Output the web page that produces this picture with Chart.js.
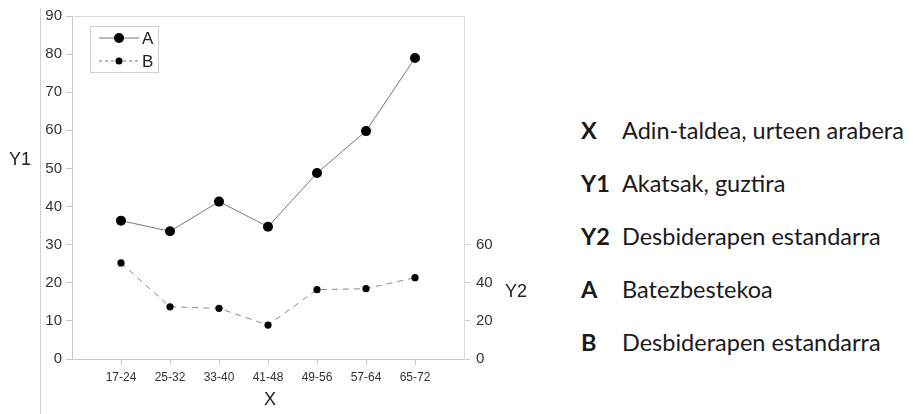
<!DOCTYPE html>
<html>
<head>
<meta charset="utf-8">
<script src="https://cdn.jsdelivr.net/npm/chart.js@4.4.1/dist/chart.umd.min.js"></script>
<style>
  html, body { margin: 0; padding: 0; background: #fff; }
  #wrap { position: relative; width: 921px; height: 414px; }
  #chartBox { position: absolute; left: 0; top: 0; width: 560px; height: 414px; }
  #key { position: absolute; left: 581px; top: 113px; font-family: Lato, "Open Sans", sans-serif;
         font-size: 23.5px; color: #1a1a1a; }
  #key div { height: 53px; line-height: 34px; white-space: nowrap; }
  #key b { display: inline-block; width: 41px; font-weight: 700; }
</style>
</head>
<body>
<div id="wrap">
  <div id="chartBox"><canvas id="c" width="560" height="414"></canvas></div>
  <div id="key"></div>
</div>
<script>
// data
const categories = ['17-24', '25-32', '33-40', '41-48', '49-56', '57-64', '65-72'];
const seriesA = [36.3, 33.5, 41.3, 34.7, 48.8, 59.8, 79.0];   // Y1
const seriesB = [50.4, 27.4, 26.6, 17.8, 36.4, 36.9, 42.7];   // Y2
const y1Ticks = [0, 10, 20, 30, 40, 50, 60, 70, 80, 90];
const y2Ticks = [0, 20, 40, 60];
const keyRows = [
  ['X', 'Adin-taldea, urteen arabera'],
  ['Y1', 'Akatsak, guztira'],
  ['Y2', 'Desbiderapen estandarra'],
  ['A', 'Batezbestekoa'],
  ['B', 'Desbiderapen estandarra']
];

const key = document.getElementById('key');
keyRows.forEach(r => {
  let d = document.createElement('div');
  d.innerHTML = '<b>' + r[0] + '</b>' + r[1];
  key.appendChild(d);
});

const axisCol = '#c9c9c9';
const tickFont = { family: '"Liberation Sans", Arial, sans-serif', size: 15 };

// extra drawing: top frame, outer rule, axis titles, legend box
const decor = {
  id: 'decor',
  afterDraw(chart) {
    const ctx = chart.ctx, a = chart.chartArea;
    ctx.save();
    ctx.strokeStyle = '#dcdcdc';
    ctx.lineWidth = 1;
    ctx.beginPath();
    ctx.moveTo(a.left, a.top + 0.5); ctx.lineTo(a.right, a.top + 0.5);
    ctx.stroke();
    // outer left rule
    ctx.strokeStyle = '#d0d0d0';
    ctx.beginPath();
    ctx.moveTo(a.left - 31.5, 8); ctx.lineTo(a.left - 31.5, chart.height);
    ctx.stroke();

    // axis titles
    ctx.fillStyle = '#222';
    ctx.font = '18px "Liberation Sans", Arial, sans-serif';
    ctx.textAlign = 'center';
    ctx.textBaseline = 'middle';
    ctx.fillText('Y1', a.left - 52, 160);
    ctx.fillText('Y2', a.right + 52, 292);
    ctx.fillText('X', (a.left + a.right) / 2 + 2, 400);

    // legend
    const lx = a.left + 18, ly = a.top + 10;
    ctx.strokeStyle = '#d0d0d0';
    ctx.strokeRect(lx + 0.5, ly + 0.5, 68, 46);
    const rows = [
      { t: 'A', dash: [], r: 5 },
      { t: 'B', dash: [3, 3], r: 3.5 }
    ];
    rows.forEach((e, i) => {
      const y = ly + 12 + i * 23;
      ctx.strokeStyle = '#777';
      ctx.setLineDash(e.dash);
      ctx.beginPath();
      ctx.moveTo(lx + 9, y); ctx.lineTo(lx + 49, y);
      ctx.stroke();
      ctx.setLineDash([]);
      ctx.fillStyle = '#000';
      ctx.beginPath();
      ctx.arc(lx + 29, y, e.r, 0, Math.PI * 2);
      ctx.fill();
      ctx.fillStyle = '#222';
      ctx.textAlign = 'left';
      ctx.font = '17px "Liberation Sans", Arial, sans-serif';
      ctx.fillText(e.t, lx + 52, y + 1);
    });
    ctx.restore();
  }
};

new Chart(document.getElementById('c'), {
  type: 'line',
  data: {
    datasets: [
      {
        label: 'A',
        data: seriesA.map((v, i) => ({ x: i + 1, y: v })),
        yAxisID: 'y',
        borderColor: '#777',
        borderWidth: 1,
        pointRadius: 5,
        pointBackgroundColor: '#000',
        pointBorderWidth: 0,
        tension: 0
      },
      {
        label: 'B',
        data: seriesB.map((v, i) => ({ x: i + 1, y: v })),
        yAxisID: 'y2',
        borderColor: '#888',
        borderWidth: 1,
        borderDash: [6, 5],
        pointRadius: 3.6,
        pointBackgroundColor: '#000',
        pointBorderWidth: 0,
        tension: 0
      }
    ]
  },
  options: {
    responsive: false,
    animation: false,
    layout: { padding: { top: 16, left: 0, right: 0, bottom: 0 } },
    plugins: { legend: { display: false }, tooltip: { enabled: false } },
    scales: {
      x: {
        type: 'linear',
        min: 0, max: categories.length + 1,
        afterBuildTicks: s => { s.ticks = categories.map((c, i) => ({ value: i + 1 })); },
        afterFit: s => { s.height = 55; },
        grid: { drawOnChartArea: false, color: axisCol, tickLength: 6 },
        border: { color: axisCol },
        ticks: {
          autoSkip: false, maxRotation: 0, padding: 5,
          color: '#333',
          font: { family: '"Liberation Sans Narrow", "Liberation Sans", Arial, sans-serif', size: 12 },
          callback: v => categories[v - 1] || ''
        }
      },
      y: {
        position: 'left',
        min: 0, max: 90,
        afterBuildTicks: s => { s.ticks = y1Ticks.map(v => ({ value: v })); },
        afterFit: s => { s.width = 72; },
        grid: { drawOnChartArea: false, color: axisCol, tickLength: 6 },
        border: { color: axisCol },
        ticks: { color: '#333', font: tickFont, padding: 4 }
      },
      y2: {
        position: 'right',
        min: 0, max: 180,
        afterBuildTicks: s => { s.ticks = y2Ticks.map(v => ({ value: v })); },
        afterFit: s => { s.width = 96; },
        grid: { drawOnChartArea: false, color: axisCol, tickLength: 6 },
        border: { color: '#dcdcdc' },
        ticks: { color: '#333', font: tickFont, padding: 6 }
      }
    }
  },
  plugins: [decor]
});
</script>
</body>
</html>
